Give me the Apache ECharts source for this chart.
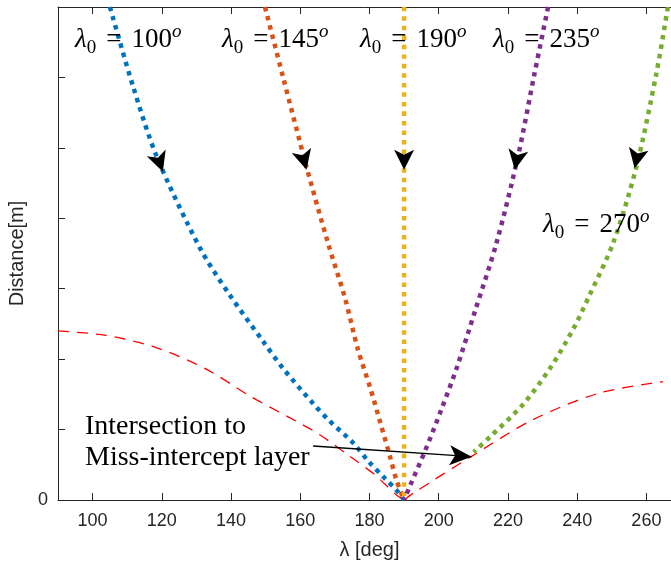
<!DOCTYPE html>
<html><head><meta charset="utf-8">
<script src="https://cdn.jsdelivr.net/npm/echarts@6/dist/echarts.min.js"></script>
<style>html,body{margin:0;padding:0;background:#fff}#c{width:671px;height:568px}</style>
</head><body><div id="c"></div>
<script>
// ---- data ----
const xTicks = [100, 120, 140, 160, 180, 200, 220, 240, 260];
const yTicksLabelled = [0];
const curve100 = [[105.0,7.0],[111.7,5.87],[118.5,4.88],[131.0,3.58],[139.5,2.92],[149.3,2.25],[155.0,1.87],[163.7,1.37],[168.3,1.13],[175.3,0.81],[179.7,0.55],[184.4,0.31],[187.8,0.14],[190,0]];
const curve145 = [[149.8,7.0],[155.0,6.01],[161.8,4.73],[168.0,3.65],[172.9,2.87],[176.7,2.13],[180.1,1.61],[183.0,1.12],[185.9,0.62],[187.8,0.28],[190,0]];
const curve190 = [[190,7.0],[190,0]];
const curve235 = [[231.6,7.0],[227.7,6.06],[222.9,4.88],[216.7,3.65],[210.4,2.67],[205.3,1.89],[200.8,1.29],[196.0,0.69],[191.6,0.19],[190,0]];
const curve270 = [[266.2,7.0],[262.9,6.06],[257.1,4.73],[250.4,3.65],[243.4,2.89],[239.0,2.44],[232.3,1.88],[224.4,1.36],[214.9,0.90],[210.1,0.68]];
const layerLeft = [[90,2.40],[103.5,2.34],[118,2.17],[132.4,1.87],[146,1.46],[156.5,1.18],[165.5,0.93],[174.3,0.62],[181.5,0.36],[187.8,0.07],[190,0]];
const layerRight = [[190,0],[192.6,0.095],[209.5,0.62],[227.2,1.14],[246.5,1.52],[264.8,1.68]];
// arrow heads along the trajectories: [from, tip]
const arrow100 = [[119.37,4.79],[120.3,4.66]];
const arrow145 = [[161.1,4.82],[161.8,4.69]];
const arrow190 = [[190,4.83],[190,4.69]];
const arrow235 = [[222.5,4.83],[222.0,4.69]];
const arrow270 = [[257.2,4.85],[256.6,4.71]];
const intersectArrow = [[163.7,0.767],[209.5,0.615]];
const lambdaLabels = ['100','145','190','235','270'];

const colors = ['#0072BD','#D95319','#EDB120','#7E2F8E','#77AC30'];
const axisColor = '#262626';
const sans = 'Liberation Sans';
const serif = 'Liberation Serif';

function traj(name, data, color, arrow) {
  return {
    type: 'line', name, data, symbol: 'none', showSymbol: false, smooth: 0.3,
    lineStyle: { color, width: 4.5, type: [4.5, 5], cap: 'butt' }, z: 3, animation: false,
    markLine: {
      silent: true, animation: false, symbol: ['none', 'arrow'], symbolSize: [15, 20],
      lineStyle: { color: '#000', width: 0, type: 'solid' }, itemStyle: { color: '#000' },
      label: { show: false },
      data: [[{ coord: arrow[0] }, { coord: arrow[1] }]]
    }
  };
}

function lamLabel(val, x, y) {
  return {
    type: 'text', x, y, z: 100,
    style: {
      text: '{l|λ}{s|0}{e|=}{n|' + val + '}{o|o}',
      align: 'left', verticalAlign: 'middle', textAlign: 'left', textVerticalAlign: 'middle',
      fill: '#000',
      rich: {
        l: { fontFamily: serif, fontStyle: 'italic', fontSize: 27, lineHeight: 36, verticalAlign: 'middle', fill: '#000' },
        s: { fontFamily: serif, fontSize: 19, lineHeight: 22, verticalAlign: 'bottom', fill: '#000' },
        e: { fontFamily: serif, fontSize: 27, lineHeight: 36, verticalAlign: 'middle', padding: [0, 10, 0, 10], fill: '#000' },
        n: { fontFamily: serif, fontSize: 27, lineHeight: 36, verticalAlign: 'middle', fill: '#000' },
        o: { fontFamily: serif, fontStyle: 'italic', fontSize: 19, lineHeight: 22, verticalAlign: 'top', fill: '#000' }
      }
    }
  };
}

const chart = echarts.init(document.getElementById('c'), null, { renderer: 'canvas' });
const xCommon = {
  type: 'value', min: 90, max: 270,
  axisLine: { show: true, onZero: false, lineStyle: { color: axisColor, width: 1 } },
  splitLine: { show: false }
};
chart.setOption({
  backgroundColor: '#fff',
  animation: false,
  grid: { left: 58, right: -10, top: 7, bottom: 68, containLabel: false, outerBoundsMode: 'none' },
  xAxis: [
    Object.assign({}, xCommon, {
      position: 'bottom',
      name: 'λ [deg]', nameLocation: 'middle', nameGap: 40,
      nameTextStyle: { fontFamily: sans, fontSize: 20, color: axisColor },
      axisTick: { show: true, inside: true, length: 7, customValues: xTicks, lineStyle: { color: axisColor } },
      axisLabel: { show: true, customValues: xTicks, fontFamily: sans, fontSize: 18, color: axisColor, margin: 12 }
    }),
    Object.assign({}, xCommon, {
      position: 'top',
      axisTick: { show: true, inside: true, length: 7, customValues: xTicks, lineStyle: { color: axisColor } },
      axisLabel: { show: false }
    })
  ],
  yAxis: {
    type: 'value', min: 0, max: 7, interval: 1,
    name: 'Distance[m]', nameLocation: 'middle', nameGap: 24,
    nameTextStyle: { fontFamily: sans, fontSize: 20, color: axisColor },
    axisLine: { show: true, lineStyle: { color: axisColor, width: 1 } },
    axisTick: { show: true, inside: true, length: 7, lineStyle: { color: axisColor } },
    axisLabel: { fontFamily: sans, fontSize: 18, color: axisColor, margin: 10,
      formatter: v => (yTicksLabelled.indexOf(v) >= 0 ? String(v) : '') },
    splitLine: { show: false }
  },
  series: [
    {
      type: 'line', name: 'layerL', data: layerLeft, symbol: 'none', smooth: 0.3, z: 2,
      lineStyle: { color: '#FF0000', width: 1.3, type: [11, 8] }
    },
    {
      type: 'line', name: 'layerR', data: layerRight, symbol: 'none', smooth: 0.3, z: 2,
      lineStyle: { color: '#FF0000', width: 1.3, type: [11, 8] },
      markLine: {
        silent: true, animation: false, symbol: ['none', 'arrow'], symbolSize: [15, 22],
        lineStyle: { color: '#000', width: 1.3, type: 'solid' }, itemStyle: { color: '#000' },
        label: { show: false }, z: 10,
        data: [[{ coord: intersectArrow[0] }, { coord: intersectArrow[1] }]]
      }
    },
    traj('l100', curve100, colors[0], arrow100),
    traj('l145', curve145, colors[1], arrow145),
    traj('l190', curve190, colors[2], arrow190),
    traj('l235', curve235, colors[3], arrow235),
    traj('l270', curve270, colors[4], arrow270)
  ],
  graphic: [
    lamLabel(lambdaLabels[0], 75, 40),
    lamLabel(lambdaLabels[1], 222, 40),
    lamLabel(lambdaLabels[2], 360, 40),
    lamLabel(lambdaLabels[3], 493, 40),
    lamLabel(lambdaLabels[4], 543, 225),
    {
      type: 'text', x: 85, y: 442, z: 100,
      style: {
        text: 'Intersection to\nMiss-intercept layer',
        fontFamily: serif, fontSize: 28, lineHeight: 31.5, fill: '#000',
        align: 'left', verticalAlign: 'middle', textAlign: 'left', textVerticalAlign: 'middle'
      }
    }
  ]
});
</script></body></html>
